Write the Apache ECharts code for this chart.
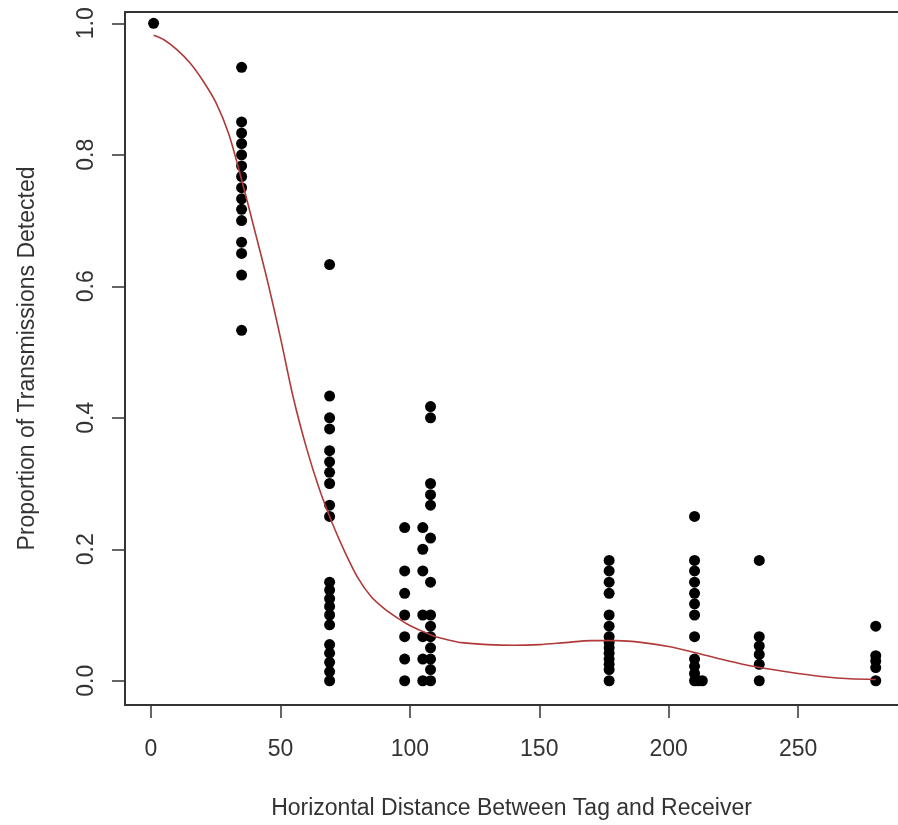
<!DOCTYPE html>
<html>
<head>
<meta charset="utf-8">
<script src="https://cdn.jsdelivr.net/npm/echarts@6/dist/echarts.min.js"></script>
<style>
html,body{margin:0;padding:0;background:#fff;}
#chart{width:898px;height:825px;}
</style>
</head>
<body>
<div id="chart"></div>
<script>
// ---- data ----
const xTicks = [0, 50, 100, 150, 200, 250];
const yTicks = [0, 0.2, 0.4, 0.6, 0.8, 1.0];

// distance of each column of points, and the proportions measured at that distance
const colX = [1, 35, 69, 98, 105, 108, 177, 210, 211.5, 213, 235, 280];
const colValues = [
  [1.0],
  [0.933, 0.85, 0.833, 0.817, 0.8, 0.783, 0.767, 0.75, 0.733, 0.717, 0.7, 0.667, 0.65, 0.617, 0.533],
  [0.633, 0.433, 0.4, 0.383, 0.35, 0.333, 0.317, 0.3, 0.267, 0.25, 0.15, 0.138, 0.125, 0.113, 0.1, 0.085, 0.055, 0.042, 0.028, 0.014, 0],
  [0.233, 0.167, 0.133, 0.1, 0.067, 0.033, 0],
  [0.233, 0.2, 0.167, 0.1, 0.067, 0.033, 0],
  [0.417, 0.4, 0.3, 0.283, 0.267, 0.217, 0.15, 0.1, 0.083, 0.067, 0.05, 0.033, 0.017, 0],
  [0.183, 0.167, 0.15, 0.133, 0.1, 0.083, 0.067, 0.058, 0.05, 0.042, 0.033, 0.025, 0.017, 0],
  [0.25, 0.183, 0.167, 0.15, 0.133, 0.117, 0.1, 0.067, 0.033, 0.022, 0.011, 0],
  [0],
  [0],
  [0.183, 0.067, 0.053, 0.04, 0.025, 0],
  [0.083, 0.038, 0.03, 0.02, 0]
];

// fitted smooth curve
const curveX = [1, 5, 10, 15, 20, 25, 30, 35, 40, 45, 50, 55, 60, 65, 70, 75, 80, 85, 90, 95, 100, 105, 110, 115, 120, 130, 140, 150, 160, 170, 180, 190, 200, 210, 220, 230, 240, 250, 260, 270, 280];
const curveY = [0.982, 0.975, 0.960, 0.940, 0.913, 0.880, 0.832, 0.762, 0.686, 0.608, 0.522, 0.43, 0.355, 0.292, 0.24, 0.195, 0.156, 0.128, 0.11, 0.096, 0.084, 0.075, 0.067, 0.062, 0.058, 0.055, 0.054, 0.055, 0.058, 0.061, 0.061, 0.058, 0.052, 0.043, 0.033, 0.024, 0.017, 0.011, 0.006, 0.003, 0.002];

const xTitle = 'Horizontal Distance Between Tag and Receiver';
const yTitle = 'Proportion of Transmissions Detected';

// ---- build series data ----
const points = [];
colX.forEach((x, i) => colValues[i].forEach(v => points.push([x, v])));
const curve = curveX.map((x, i) => [x, curveY[i]]);

const FONT = 'Liberation Sans, Arial, sans-serif';
const TXT = '#333';
const LINE = '#333';
const X_MIN = -10.05, X_MAX = 288.6;

const chart = echarts.init(document.getElementById('chart'), null, {renderer: 'canvas'});
chart.setOption({
  animation: false,
  backgroundColor: '#fff',
  grid: {left: 125, right: 0, top: 12, bottom: 119, show: false},
  xAxis: [
    {
      type: 'value',
      position: 'bottom',
      min: X_MIN, max: X_MAX,
      splitLine: {show: false},
      axisLine: {show: true, onZero: false, lineStyle: {color: LINE, width: 2}},
      axisTick: {show: true, customValues: xTicks, length: 13, inside: false, lineStyle: {color: LINE, width: 1.5}},
      axisLabel: {customValues: xTicks, margin: 33, fontSize: 23, color: TXT, fontFamily: FONT},
      name: xTitle,
      nameLocation: 'middle',
      nameGap: 92,
      nameTextStyle: {fontSize: 23, color: TXT, fontFamily: FONT}
    },
    {
      type: 'value',
      position: 'top',
      min: X_MIN, max: X_MAX,
      splitLine: {show: false},
      axisLine: {show: true, onZero: false, lineStyle: {color: LINE, width: 2}},
      axisTick: {show: false},
      axisLabel: {show: false}
    }
  ],
  yAxis: {
    type: 'value',
    min: -0.0369, max: 1.0172,
    splitLine: {show: false},
    axisLine: {show: true, onZero: false, lineStyle: {color: LINE, width: 2}},
    axisTick: {show: true, customValues: yTicks, length: 13, inside: false, lineStyle: {color: LINE, width: 1.5}},
    axisLabel: {
      customValues: yTicks, rotate: 90, margin: 27, fontSize: 23, color: TXT, fontFamily: FONT,
      formatter: v => v.toFixed(1)
    },
    name: yTitle,
    nameLocation: 'middle',
    nameRotate: 90,
    nameGap: 86,
    nameTextStyle: {fontSize: 23, color: TXT, fontFamily: FONT}
  },
  series: [
    {
      type: 'scatter',
      data: points,
      symbol: 'circle',
      symbolSize: 11,
      itemStyle: {color: '#000', opacity: 1},
      silent: true,
      z: 2
    },
    {
      type: 'line',
      data: curve,
      smooth: 0.3,
      showSymbol: false,
      lineStyle: {color: '#b03a3a', width: 1.6},
      silent: true,
      z: 3
    }
  ]
});
</script>
</body>
</html>
